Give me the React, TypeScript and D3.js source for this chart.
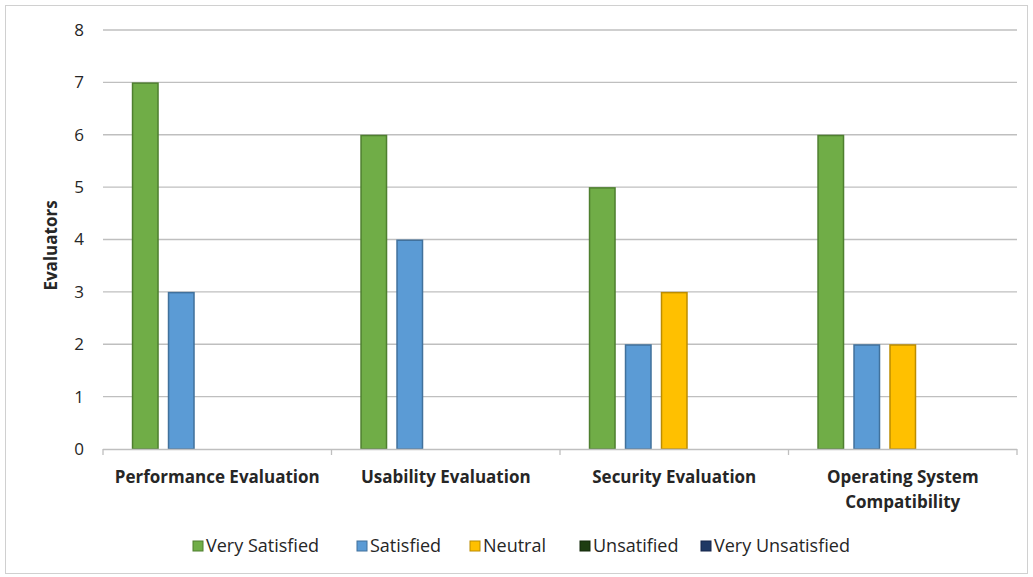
import React, { useEffect, useRef } from "react";
import * as d3 from "d3";

const categories: string[][] = [
  ["Performance Evaluation"],
  ["Usability Evaluation"],
  ["Security Evaluation"],
  ["Operating System", "Compatibility"],
];
const seriesNames = ["Very Satisfied", "Satisfied", "Neutral", "Unsatified", "Very Unsatisfied"];
const verySatisfied = [7, 6, 5, 6];
const satisfied = [3, 4, 2, 2];
const neutral = [0, 0, 3, 2];
const unsatified = [0, 0, 0, 0];
const veryUnsatisfied = [0, 0, 0, 0];
const yTicks = [0, 1, 2, 3, 4, 5, 6, 7, 8];

const fills = ["#70ad47", "#5b9bd5", "#ffc000", "#1e3d12", "#1f3864"];
const strokes = ["#4e7f2f", "#41719c", "#bc8c00", "#13290a", "#14254a"];

export default function App() {
  const ref = useRef<SVGSVGElement>(null);
  useEffect(() => {
    const svg = d3.select(ref.current);
    svg.selectAll("*").remove();
    const W = 1033, H = 577;
    const left = 103, right = 1017, top = 30, bottom = 449;
    const font = "'Open Sans', Lato, sans-serif";
    const series = [verySatisfied, satisfied, neutral, unsatified, veryUnsatisfied];

    svg.append("rect").attr("x", 5.5).attr("y", 5.5).attr("width", W - 11).attr("height", H - 9)
      .attr("fill", "#fff").attr("stroke", "#d0d0d0");

    const x = d3.scaleBand<number>().domain(categories.map((_, i) => i)).range([left, right]).padding(0);
    const y = d3.scaleLinear().domain([0, 8]).range([bottom, top]);
    const inner = d3.scaleBand<number>().domain(seriesNames.map((_, i) => i))
      .range([0, x.bandwidth()]).paddingInner(0.25).paddingOuter(0.8);

    // gridlines
    svg.append("g").selectAll("line").data(yTicks.filter(t => t > 0)).join("line")
      .attr("x1", left).attr("x2", right).attr("y1", d => y(d)).attr("y2", d => y(d))
      .attr("stroke", "#bfbfbf").attr("stroke-width", 1.3);

    // y tick labels
    svg.append("g").selectAll("text").data(yTicks).join("text")
      .attr("x", 84).attr("y", d => y(d)).attr("dy", "0.35em").attr("text-anchor", "end")
      .attr("font-family", font).attr("font-size", 17).attr("fill", "#262626").text(d => d);

    // bars
    series.forEach((vals, si) => {
      svg.append("g").selectAll("rect").data(vals).join("rect")
        .attr("x", (_, ci) => (x(ci) as number) + (inner(si) as number) + 0.75)
        .attr("y", d => y(d) + 0.75)
        .attr("width", inner.bandwidth() - 1.5)
        .attr("height", d => Math.max(0, bottom - y(d) - 0.75))
        .attr("fill", fills[si]).attr("stroke", strokes[si]).attr("stroke-width", 1.5)
        .style("display", d => (d > 0 ? null : "none"));
    });

    // x axis
    svg.append("line").attr("x1", left).attr("x2", right).attr("y1", bottom + 0.5).attr("y2", bottom + 0.5)
      .attr("stroke", "#bfbfbf").attr("stroke-width", 1.3);
    const bounds = [...categories.map((_, i) => x(i) as number), right];
    svg.append("g").selectAll("line").data(bounds).join("line")
      .attr("x1", d => d).attr("x2", d => d).attr("y1", bottom).attr("y2", bottom + 6)
      .attr("stroke", "#bfbfbf").attr("stroke-width", 1.3);

    // category labels
    const cg = svg.append("g");
    categories.forEach((lines, i) => {
      lines.forEach((ln, li) => {
        cg.append("text").attr("x", (x(i) as number) + x.bandwidth() / 2).attr("y", 483 + li * 25)
          .attr("text-anchor", "middle").attr("font-family", font).attr("font-weight", "bold")
          .attr("font-size", 17).attr("fill", "#262626").text(ln);
      });
    });

    // y axis title
    svg.append("text").attr("transform", `translate(57,${(top + bottom) / 2 + 6}) rotate(-90)`)
      .attr("text-anchor", "middle").attr("font-family", font).attr("font-weight", "bold")
      .attr("font-size", 17).attr("fill", "#262626").text("Evaluators");

    // legend
    const lx = [193, 357, 470, 580, 701];
    const lg = svg.append("g");
    seriesNames.forEach((n, i) => {
      lg.append("rect").attr("x", lx[i]).attr("y", 541).attr("width", 10).attr("height", 10)
        .attr("fill", fills[i]).attr("stroke", strokes[i]).attr("stroke-width", 1);
      lg.append("text").attr("x", lx[i] + 13).attr("y", 546).attr("dy", "0.35em")
        .attr("font-family", font).attr("font-size", 18).attr("fill", "#262626").text(n);
    });
  }, []);
  return (
    <svg ref={ref} width={1033} height={577}
      style={{ position: "absolute", left: 0, top: 0, background: "#fff" }} />
  );
}
